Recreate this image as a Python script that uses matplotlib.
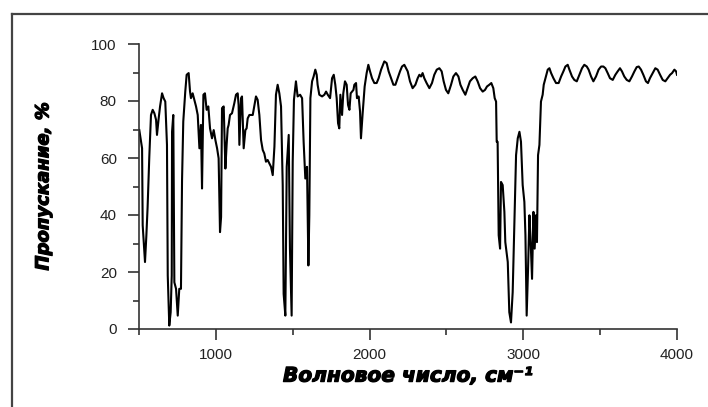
import matplotlib
matplotlib.use("Agg")
import matplotlib.pyplot as plt
from matplotlib.lines import Line2D
from matplotlib.ticker import MultipleLocator
import matplotlib.patheffects as pe

# ИК-спектр пропускания
wn_1 = [502, 520, 524, 539, 548, 556, 567, 578, 589, 600, 611, 617, 628, 637, 650, 660,
        671, 682, 687, 697, 706, 713, 715, 723, 730, 741, 752, 762, 773, 780, 788, 801,
        810, 823, 832, 838, 849, 860, 871, 882, 893, 903, 910, 919, 929, 940, 951, 962,
        975, 986, 997, 1008, 1018, 1027, 1034, 1040, 1051, 1062]
tr_1 = [69.8, 63.4, 36.4, 23.5, 32.9, 42.8, 60.4, 75.1, 76.9, 75.7, 73.4, 68.1, 73.9, 78.1,
        82.7, 81.0, 79.8, 64.6, 18.8, 1.2, 5.9, 18.8, 69.2, 75.1, 16.4, 14.1, 4.7, 14.1,
        14.1, 52.2, 72.8, 83.3, 89.2, 89.8, 83.3, 81.0, 82.7, 80.4, 78.1, 75.1, 63.4, 71.6,
        49.3, 82.2, 82.7, 76.9, 78.1, 70.4, 66.9, 69.8, 66.3, 63.4, 59.9, 34.0, 39.3, 77.5,
        78.1, 56.3]

wn_2 = [1070, 1077, 1083, 1092, 1105, 1120, 1131, 1142, 1148, 1153, 1164, 1170, 1181,
        1192, 1200, 1207, 1218, 1240, 1250, 1261, 1272, 1283, 1294, 1305, 1315, 1326,
        1337, 1348, 1359, 1370, 1381, 1391, 1402, 1413, 1424, 1435, 1441, 1452, 1461,
        1474, 1482, 1493, 1500, 1508, 1521, 1532, 1548, 1561, 1571, 1582, 1593, 1602,
        1608, 1615, 1626, 1636, 1647]
tr_2 = [64.6, 70.4, 71.6, 75.1, 75.7, 79.2, 82.2, 82.7, 78.6, 64.6, 81.0, 81.6, 63.4, 69.8,
        70.4, 73.9, 75.1, 75.1, 78.1, 81.6, 80.4, 75.1, 66.3, 62.8, 61.6, 58.7, 59.3, 58.1,
        56.9, 54.0, 64.0, 82.2, 85.7, 82.7, 78.1, 50.5, 12.3, 4.7, 56.9, 68.1, 28.2, 4.7,
        58.7, 80.4, 86.9, 81.6, 82.2, 81.0, 65.7, 52.8, 56.9, 22.3, 39.9, 81.0, 86.9, 88.6,
        91.0]

wn_3 = [1656, 1662, 1673, 1691, 1706, 1717, 1728, 1743, 1756, 1767, 1777, 1786, 1795,
        1803, 1810, 1821, 1829, 1840, 1851, 1860, 1869, 1877, 1886, 1895, 1901, 1912,
        1918, 1929, 1938, 1944, 1955, 1968, 1981, 1992, 2003, 2016, 2031, 2046, 2059,
        2075, 2096, 2111, 2124, 2140, 2155, 2168, 2183, 2198, 2211, 2226]
tr_3 = [89.2, 85.7, 82.2, 81.6, 82.2, 83.3, 82.2, 81.0, 88.0, 89.2, 85.7, 81.0, 72.2, 70.4,
        82.2, 75.1, 82.7, 86.9, 85.7, 78.6, 76.9, 82.7, 83.3, 83.9, 85.7, 86.3, 81.0, 81.6,
        76.3, 66.9, 75.7, 85.1, 89.8, 92.7, 90.4, 88.0, 86.3, 86.3, 88.0, 91.0, 93.9, 93.3,
        90.4, 88.0, 85.7, 85.7, 88.0, 90.4, 92.1, 92.7]

wn_4 = [2242, 2248, 2263, 2280, 2298, 2313, 2324, 2335, 2345, 2356, 2371, 2389, 2406,
        2421, 2437, 2454, 2469, 2482, 2497, 2512, 2530, 2545, 2562, 2578, 2591, 2606,
        2623, 2638, 2653, 2671, 2688, 2703, 2719, 2736, 2751, 2764, 2779, 2792, 2805,
        2814, 2823]
tr_4 = [91.0, 90.4, 86.9, 84.5, 85.7, 88.0, 89.2, 88.6, 89.8, 88.0, 86.3, 84.5, 86.3, 89.2,
        91.0, 91.5, 90.4, 86.9, 83.9, 82.7, 85.7, 88.6, 89.8, 88.6, 85.7, 83.9, 82.2, 84.5,
        86.9, 88.0, 88.6, 86.9, 84.5, 83.3, 83.9, 85.1, 85.7, 86.3, 84.5, 81.0, 79.8]

wn_5 = [2827, 2833, 2840, 2849, 2855, 2866, 2877, 2883, 2899, 2909, 2920, 2931, 2942,
        2953, 2964, 2975, 2985, 2996, 3007, 3014, 3022, 3031, 3040, 3048, 3057, 3066,
        3074, 3083, 3089, 3096, 3105, 3115, 3126, 3133, 3144, 3152, 3159, 3170, 3181,
        3196, 3213, 3230, 3246, 3261, 3274, 3289, 3300, 3317, 3332, 3348, 3365, 3382,
        3397, 3413]
tr_5 = [65.7, 65.7, 32.9, 28.2, 51.6, 50.5, 41.1, 30.5, 23.5, 5.9, 2.3, 12.9, 37.6, 61.0,
        66.9, 69.2, 65.7, 50.5, 44.6, 32.9, 4.7, 21.1, 39.9, 30.5, 17.6, 41.1, 28.2, 39.9,
        30.5, 61.0, 64.6, 79.8, 82.2, 85.7, 88.0, 89.8, 91.0, 91.5, 89.8, 88.0, 86.3, 86.3,
        88.6, 90.4, 92.1, 92.7, 91.0, 88.6, 87.4, 86.9, 89.2, 91.5, 92.7, 92.1]

wn_6 = [3425, 3441, 3456, 3473, 3490, 3506, 3521, 3534, 3549, 3564, 3582, 3599, 3614,
        3629, 3642, 3657, 3673, 3690, 3707, 3723, 3738, 3751, 3766, 3781, 3798, 3811,
        3824, 3842, 3859, 3874, 3890, 3907, 3924, 3939, 3955, 3968, 3983, 3994, 4000]
tr_6 = [91.0, 88.6, 86.9, 88.6, 91.0, 92.1, 92.1, 91.5, 89.8, 88.0, 87.4, 89.2, 90.4, 91.5,
        90.4, 88.6, 87.4, 86.9, 88.6, 90.4, 91.9, 92.1, 91.0, 89.2, 86.9, 86.3, 88.0, 89.8,
        91.5, 91.0, 89.2, 87.4, 86.9, 88.0, 89.2, 89.8, 91.0, 90.4, 89.2]

wavenumber = wn_1 + wn_2 + wn_3 + wn_4 + wn_5 + wn_6
transmission = tr_1 + tr_2 + tr_3 + tr_4 + tr_5 + tr_6

x_ticks = [1000, 2000, 3000, 4000]
y_ticks = [0, 20, 40, 60, 80, 100]

fig = plt.figure(figsize=(7.08, 4.07), dpi=100)
ax = fig.add_axes([139 / 708, 78 / 407, 538 / 708, 285 / 407])

ax.plot(wavenumber, transmission, color="black", lw=1.5)

ax.set_xlim(500, 4000)
ax.set_ylim(0, 100)
ax.set_xticks(x_ticks)
ax.set_yticks(y_ticks)
ax.xaxis.set_minor_locator(MultipleLocator(500))
ax.yaxis.set_minor_locator(MultipleLocator(10))

for side in ("top", "right"):
    ax.spines[side].set_visible(False)
for side in ("left", "bottom"):
    ax.spines[side].set_linewidth(1.2)
    ax.spines[side].set_color("#333333")

ax.tick_params(which="major", direction="out", length=8, width=1.2, color="#333333",
               labelsize=11, labelcolor="#222222", pad=6)
ax.tick_params(which="minor", direction="out", length=4, width=1.2, color="#333333")
ax.tick_params(axis="y", which="major", pad=8)
for lbl in ax.get_xticklabels() + ax.get_yticklabels():
    lbl.set_family("Liberation Sans")

heavy = [pe.withStroke(linewidth=0.9, foreground="black")]
ax.set_xlabel("Волновое число, см⁻¹", family="DejaVu Sans", fontsize=14.5,
              fontweight="bold", fontstyle="italic", labelpad=3, path_effects=heavy)
ax.set_ylabel("Пропускание, %", family="DejaVu Sans", fontsize=13,
              fontweight="bold", fontstyle="italic", labelpad=28, path_effects=heavy)

# рамка вокруг рисунка (обрезана справа и снизу)
x0, y0 = 12 / 708, 1 - 14 / 407
fig.add_artist(Line2D([x0, 1.0], [y0, y0], transform=fig.transFigure,
                      color="#444444", lw=1.6))
fig.add_artist(Line2D([x0, x0], [y0, 0.0], transform=fig.transFigure,
                      color="#444444", lw=1.6))

fig.savefig("out.png", dpi=100)
